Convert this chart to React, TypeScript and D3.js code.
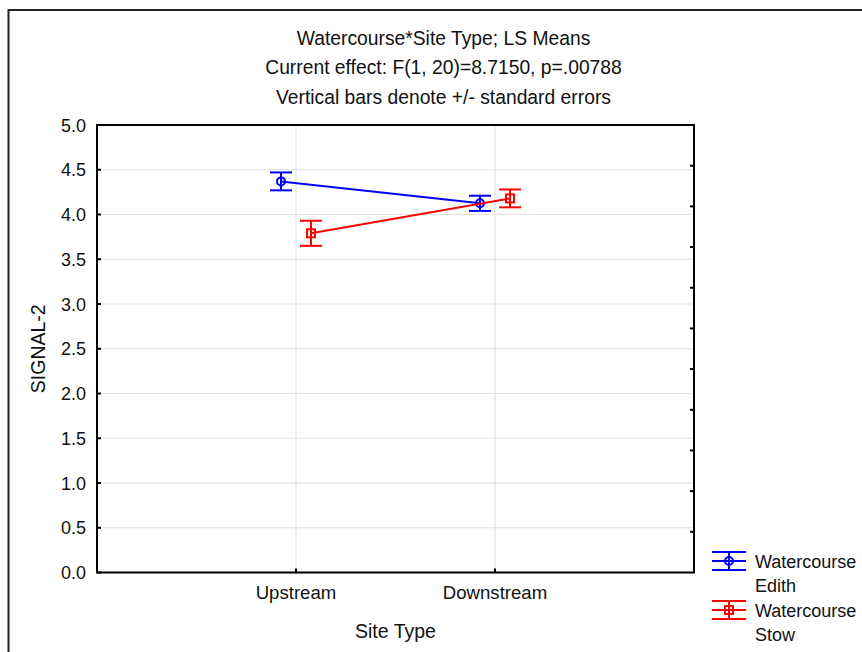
import React from "react";
import * as d3 from "d3";

const categories = ["Upstream", "Downstream"];
const edithMeans = [4.37, 4.125];
const edithSE = [0.1, 0.085];
const stowMeans = [3.79, 4.18];
const stowSE = [0.14, 0.1];
const yTicks = [0, 0.5, 1, 1.5, 2, 2.5, 3, 3.5, 4, 4.5, 5];
const titleLines = [
  "Watercourse*Site Type; LS Means",
  "Current effect: F(1, 20)=8.7150, p=.00788",
  "Vertical bars denote +/- standard errors",
];

const W = 862;
const H = 652;
const left = 97;
const right = 694;
const top = 125;
const bottom = 572.5;
const FONT = "'Liberation Sans', Arial, sans-serif";

export default function App() {
  const y = d3.scaleLinear().domain([0, 5]).range([bottom, top]);
  const x = d3
    .scalePoint<string>()
    .domain(categories)
    .range([left, right])
    .padding(1);
  const rightTicks = d3.range(1, 11).map((i) => top + ((bottom - top) * i) / 11);

  const series = [
    { name: ["Watercourse", "Edith"], color: "#0000ff", means: edithMeans, se: edithSE, dx: -15, shape: "circle" },
    { name: ["Watercourse", "Stow"], color: "#ff0000", means: stowMeans, se: stowSE, dx: 15, shape: "square" },
  ];

  const marker = (shape: string, cx: number, cy: number, color: string) =>
    shape === "circle" ? (
      <circle cx={cx} cy={cy} r={4} fill="none" stroke={color} strokeWidth={2} />
    ) : (
      <rect x={cx - 4} y={cy - 4} width={8} height={8} fill="none" stroke={color} strokeWidth={2} />
    );

  return (
    <svg
      width={W}
      height={H}
      style={{ position: "absolute", left: 0, top: 0, background: "#fff" }}
      fontFamily={FONT}
    >
      <rect x={0} y={0} width={W} height={H} fill="#fff" />
      <rect x={8.5} y={10} width={W + 20} height={H + 20} fill="none" stroke="#222" strokeWidth={2} />

      {titleLines.map((t, i) => (
        <text key={i} x={443.5} y={44.5 + i * 29.5} textAnchor="middle" fontSize={19.3} fill="#111">
          {t}
        </text>
      ))}

      {/* grid */}
      {yTicks.slice(1, -1).map((v) => (
        <line key={v} x1={left} x2={right} y1={y(v)} y2={y(v)} stroke="#e2e2e2" strokeWidth={1.2} />
      ))}
      {categories.map((c) => (
        <line key={c} x1={x(c)} x2={x(c)} y1={top} y2={bottom} stroke="#e2e2e2" strokeWidth={1.2} />
      ))}

      {/* ticks */}
      {yTicks.map((v) => (
        <g key={v}>
          <line x1={left} x2={left + 4} y1={y(v)} y2={y(v)} stroke="#000" strokeWidth={2} />
          <text x={86} y={y(v) + 6.5} textAnchor="end" fontSize={18} fill="#111">
            {v.toFixed(1)}
          </text>
        </g>
      ))}
      {rightTicks.map((ty, i) => (
        <line key={i} x1={right - 4} x2={right} y1={ty} y2={ty} stroke="#000" strokeWidth={2} />
      ))}
      {categories.map((c) => (
        <g key={c}>
          <line x1={x(c)} x2={x(c)} y1={bottom - 4} y2={bottom} stroke="#000" strokeWidth={2} />
          <text x={x(c)} y={599} textAnchor="middle" fontSize={18.6} fill="#111">
            {c}
          </text>
        </g>
      ))}

      <rect x={left} y={top} width={right - left} height={bottom - top} fill="none" stroke="#000" strokeWidth={2} />

      <text x={395.5} y={638} textAnchor="middle" fontSize={19.5} fill="#111">
        Site Type
      </text>
      <text
        transform={`translate(45, ${(top + bottom) / 2}) rotate(-90)`}
        textAnchor="middle"
        fontSize={19.5}
        fill="#111"
      >
        SIGNAL-2
      </text>

      {/* series */}
      {series.map((s) => {
        const pts = categories.map((c, i) => [(x(c) as number) + s.dx, y(s.means[i])] as [number, number]);
        const line = d3.line()(pts) as string;
        return (
          <g key={s.color}>
            <path d={line} fill="none" stroke={s.color} strokeWidth={2} />
            {categories.map((c, i) => {
              const cx = (x(c) as number) + s.dx;
              const hi = y(s.means[i] + s.se[i]);
              const lo = y(s.means[i] - s.se[i]);
              return (
                <g key={c}>
                  <line x1={cx} x2={cx} y1={hi} y2={lo} stroke={s.color} strokeWidth={2} />
                  <line x1={cx - 11} x2={cx + 11} y1={hi} y2={hi} stroke={s.color} strokeWidth={2} />
                  <line x1={cx - 11} x2={cx + 11} y1={lo} y2={lo} stroke={s.color} strokeWidth={2} />
                  {marker(s.shape, cx, y(s.means[i]), s.color)}
                </g>
              );
            })}
          </g>
        );
      })}

      {/* legend */}
      {series.map((s, i) => {
        const cy = 561 + i * 49;
        return (
          <g key={s.color}>
            <line x1={712} x2={746} y1={cy - 9} y2={cy - 9} stroke={s.color} strokeWidth={2} />
            <line x1={712} x2={746} y1={cy} y2={cy} stroke={s.color} strokeWidth={2} />
            <line x1={712} x2={746} y1={cy + 9} y2={cy + 9} stroke={s.color} strokeWidth={2} />
            <line x1={729} x2={729} y1={cy - 9} y2={cy + 9} stroke={s.color} strokeWidth={2} />
            {marker(s.shape, 729, cy, s.color)}
            <text x={755} y={cy + 7} fontSize={18} fill="#111">
              {s.name[0]}
            </text>
            <text x={755} y={cy + 31} fontSize={18} fill="#111">
              {s.name[1]}
            </text>
          </g>
        );
      })}
    </svg>
  );
}
